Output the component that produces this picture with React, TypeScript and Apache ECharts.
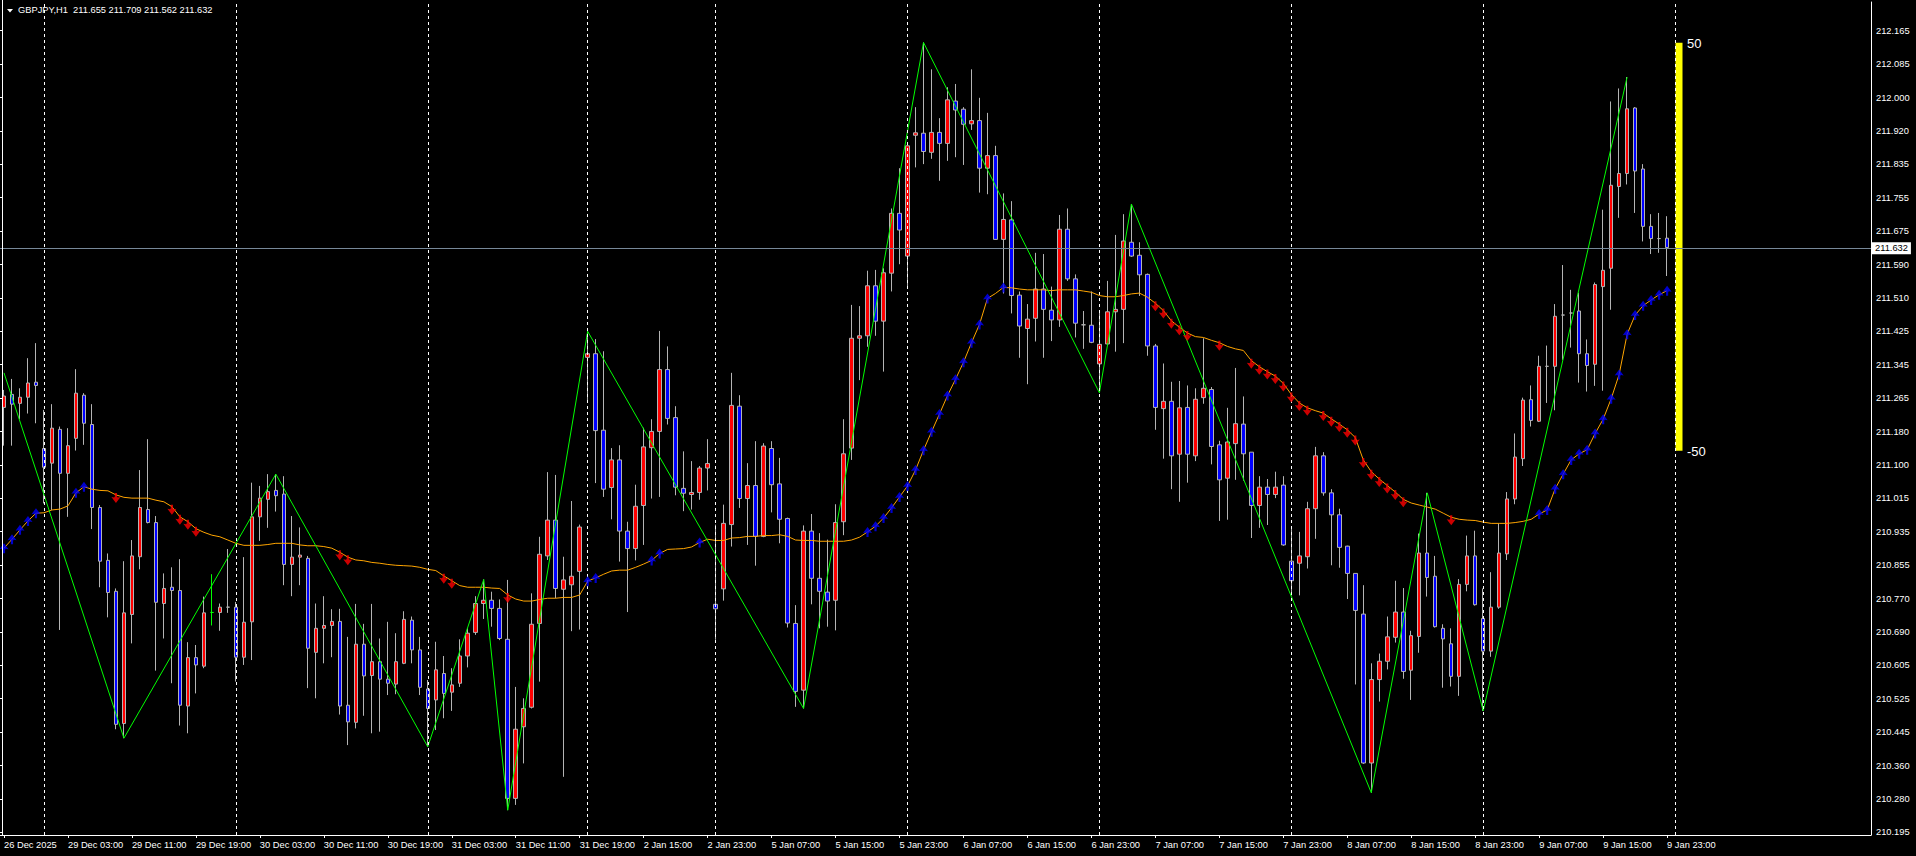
import React, { useEffect, useRef } from "react";
import * as echarts from "echarts";

const symbolName = "GBPJPY,H1";
const headerQuote = "211.655 211.709 211.562 211.632";
const lastPrice = 211.632;

const opens = [
  211.239, 211.271, 211.249, 211.264, 211.301, 211.138, 211.102, 211.185, 211.077, 211.163,
  211.269, 211.197, 210.993, 210.863, 210.787, 210.462, 210.730, 210.872, 210.988, 210.956,
  210.757, 210.797, 210.789, 210.505, 210.624, 210.603, 210.735, 210.735, 210.748, 210.748,
  210.625, 210.712, 210.970, 211.013, 211.035, 211.026, 210.853, 210.871, 210.868, 210.637,
  210.696, 210.703, 210.713, 210.507, 210.465, 210.657, 210.580, 210.614, 210.571, 210.559,
  210.610, 210.716, 210.643, 210.547, 210.520, 210.585, 210.539, 210.561, 210.628, 210.686,
  210.757, 210.765, 210.745, 210.669, 210.278, 210.454, 210.502, 210.708, 210.874, 210.962,
  210.792, 210.803, 210.836, 211.362, 211.371, 211.183, 211.042, 211.110, 210.935, 210.892,
  210.998, 211.140, 211.180, 211.332, 211.214, 211.040, 211.025, 211.030, 211.090, 210.755,
  210.793, 210.951, 211.242, 211.015, 211.047, 210.922, 211.138, 211.051, 210.966, 210.708,
  210.544, 210.935, 210.819, 210.785, 210.765, 210.958, 211.139, 211.409, 211.415, 211.538,
  211.451, 211.569, 211.716, 211.611, 211.908, 211.913, 211.866, 211.915, 211.888, 211.992,
  211.972, 211.936, 211.944, 211.827, 211.858, 211.652, 211.700, 211.515, 211.433, 211.458,
  211.530, 211.478, 211.454, 211.677, 211.555, 211.442, 211.441, 211.346, 211.395, 211.474,
  211.480, 211.645, 211.613, 211.566, 211.390, 211.236, 211.254, 211.124, 211.239, 211.120,
  211.263, 211.283, 211.147, 211.065, 211.150, 211.198, 211.129, 210.998, 211.043, 211.025,
  211.048, 210.861, 210.856, 210.872, 210.990, 211.120, 211.029, 210.975, 210.898, 210.831,
  210.731, 210.365, 210.570, 210.615, 210.674, 210.736, 210.593, 210.676, 210.881, 210.824,
  210.696, 210.658, 210.578, 210.804, 210.874, 210.720, 210.640, 210.748, 210.879, 211.014,
  211.113, 211.258, 211.205, 211.340, 211.340, 211.466, 211.471, 211.476, 211.371, 211.345,
  211.536, 211.581, 211.782, 211.814, 211.975, 211.825, 211.684, 211.654, 211.655,
];

const highs = [
  211.282, 211.309, 211.286, 211.360, 211.397, 211.233, 211.247, 211.192, 211.188, 211.333,
  211.274, 211.247, 210.999, 210.880, 210.794, 210.861, 210.913, 211.085, 211.161, 210.972,
  210.831, 210.846, 210.866, 210.662, 210.655, 210.774, 210.829, 210.757, 210.891, 210.761,
  210.871, 211.054, 211.046, 211.075, 211.075, 211.070, 210.972, 210.944, 210.874, 210.757,
  210.775, 210.743, 210.744, 210.675, 210.756, 210.707, 210.756, 210.671, 210.712, 210.684,
  210.738, 210.725, 210.675, 210.569, 210.663, 210.628, 210.598, 210.669, 210.696, 210.775,
  210.816, 210.786, 210.767, 210.815, 210.552, 210.524, 210.782, 210.921, 211.080, 211.073,
  210.872, 211.009, 210.951, 211.426, 211.407, 211.377, 211.139, 211.146, 210.958, 211.049,
  211.189, 211.210, 211.427, 211.389, 211.242, 211.131, 211.107, 211.095, 211.161, 210.951,
  211.000, 211.324, 211.269, 211.102, 211.156, 211.151, 211.156, 211.115, 210.968, 210.753,
  210.949, 210.977, 210.930, 210.914, 211.001, 211.210, 211.491, 211.488, 211.575, 211.577,
  211.581, 211.728, 211.827, 211.884, 211.977, 212.136, 212.070, 211.950, 212.026, 212.034,
  211.977, 212.070, 212.000, 211.963, 211.882, 211.765, 211.746, 211.524, 211.493, 211.619,
  211.616, 211.536, 211.712, 211.728, 211.566, 211.476, 211.524, 211.474, 211.550, 211.663,
  211.714, 211.739, 211.645, 211.568, 211.395, 211.347, 211.302, 211.304, 211.293, 211.286,
  211.409, 211.289, 211.157, 211.238, 211.336, 211.266, 211.129, 211.070, 211.063, 211.081,
  211.070, 210.940, 210.933, 211.007, 211.142, 211.129, 211.038, 210.990, 210.899, 210.831,
  210.802, 210.610, 210.634, 210.725, 210.813, 210.795, 210.690, 210.929, 211.029, 210.874,
  210.706, 210.696, 210.817, 210.924, 210.936, 210.794, 210.834, 210.954, 211.031, 211.175,
  211.263, 211.293, 211.366, 211.391, 211.493, 211.589, 211.528, 211.521, 211.406, 211.546,
  211.725, 211.991, 212.023, 212.051, 211.977, 211.837, 211.714, 211.717, 211.709,
];

const lows = [
  211.145, 211.145, 211.210, 211.224, 211.200, 211.003, 210.987, 210.692, 210.970, 211.133,
  211.147, 210.940, 210.797, 210.723, 210.448, 210.426, 210.659, 210.841, 210.954, 210.592,
  210.671, 210.561, 210.457, 210.438, 210.536, 210.598, 210.703, 210.690, 210.734, 210.565,
  210.606, 210.618, 210.911, 210.943, 210.983, 210.802, 210.775, 210.802, 210.549, 210.524,
  210.610, 210.625, 210.484, 210.409, 210.450, 210.481, 210.438, 210.442, 210.532, 210.534,
  210.608, 210.610, 210.532, 210.405, 210.446, 210.475, 210.493, 210.552, 210.600, 210.680,
  210.719, 210.700, 210.667, 210.249, 210.262, 210.364, 210.499, 210.565, 210.864, 210.770,
  210.331, 210.689, 210.693, 211.256, 211.053, 211.019, 210.964, 210.860, 210.736, 210.863,
  210.901, 211.015, 211.019, 211.197, 211.023, 210.984, 210.988, 211.012, 211.035, 210.668,
  210.764, 210.897, 210.992, 210.901, 210.850, 210.920, 210.981, 210.905, 210.698, 210.503,
  210.499, 210.755, 210.696, 210.700, 210.691, 210.925, 211.110, 211.306, 211.388, 211.415,
  211.327, 211.524, 211.591, 211.536, 211.829, 211.837, 211.850, 211.796, 211.845, 211.854,
  211.835, 211.921, 211.767, 211.763, 211.651, 211.519, 211.470, 211.361, 211.296, 211.401,
  211.361, 211.402, 211.437, 211.550, 211.411, 211.383, 211.397, 211.275, 211.392, 211.376,
  211.397, 211.609, 211.513, 211.366, 211.184, 211.113, 211.038, 211.007, 211.054, 211.107,
  211.248, 211.099, 210.960, 210.963, 211.061, 211.059, 210.918, 210.943, 210.950, 211.016,
  210.899, 210.777, 210.777, 210.843, 210.916, 211.022, 210.851, 210.845, 210.768, 210.558,
  210.363, 210.292, 210.516, 210.595, 210.661, 210.572, 210.520, 210.636, 210.774, 210.698,
  210.550, 210.553, 210.530, 210.787, 210.752, 210.493, 210.626, 210.744, 210.864, 211.001,
  211.095, 211.192, 211.203, 211.250, 211.232, 211.356, 211.386, 211.300, 211.278, 211.292,
  211.280, 211.479, 211.705, 211.787, 211.717, 211.647, 211.616, 211.619, 211.562,
];

const closes = [
  211.267, 211.247, 211.264, 211.299, 211.293, 211.092, 211.188, 211.077, 211.145, 211.274,
  211.200, 210.993, 210.861, 210.784, 210.460, 210.734, 210.874, 210.993, 210.956, 210.760,
  210.794, 210.789, 210.507, 210.624, 210.606, 210.734, 210.735, 210.748, 210.748, 210.625,
  210.711, 210.970, 211.016, 211.032, 211.022, 210.853, 210.871, 210.876, 210.647, 210.696,
  210.703, 210.713, 210.505, 210.466, 210.657, 210.579, 210.614, 210.571, 210.561, 210.614,
  210.718, 210.643, 210.551, 210.499, 210.594, 210.536, 210.557, 210.628, 210.684, 210.757,
  210.765, 210.745, 210.671, 210.278, 210.448, 210.499, 210.706, 210.878, 210.962, 210.794,
  210.815, 210.824, 210.945, 211.371, 211.182, 211.038, 211.110, 210.935, 210.892, 210.996,
  211.142, 211.180, 211.332, 211.212, 211.043, 211.028, 211.030, 211.090, 211.101, 210.744,
  210.954, 211.244, 211.015, 211.047, 210.922, 211.144, 211.049, 210.964, 210.709, 210.541,
  210.935, 210.819, 210.787, 210.763, 210.956, 211.125, 211.409, 211.415, 211.538, 211.451,
  211.570, 211.716, 211.675, 211.882, 211.914, 211.868, 211.915, 211.888, 211.995, 211.970,
  211.935, 211.944, 211.827, 211.858, 211.652, 211.701, 211.514, 211.439, 211.456, 211.530,
  211.480, 211.454, 211.677, 211.555, 211.446, 211.442, 211.399, 211.394, 211.474, 211.480,
  211.648, 211.611, 211.565, 211.390, 211.239, 211.254, 211.120, 211.238, 211.124, 211.259,
  211.286, 211.143, 211.061, 211.154, 211.199, 211.125, 210.998, 211.043, 211.025, 211.043,
  210.901, 210.813, 210.874, 210.990, 211.120, 211.029, 210.975, 210.895, 210.831, 210.740,
  210.365, 210.570, 210.615, 210.675, 210.736, 210.590, 210.678, 210.881, 210.821, 210.700,
  210.670, 210.578, 210.804, 210.874, 210.754, 210.640, 210.748, 210.881, 211.014, 211.117,
  211.257, 211.207, 211.340, 211.340, 211.463, 211.466, 211.471, 211.371, 211.342, 211.541,
  211.576, 211.785, 211.814, 211.973, 211.820, 211.684, 211.654, 211.654, 211.632,
];

const maValues = [
  210.893, 210.915, 210.938, 210.960, 210.979, 210.980, 210.987, 210.989, 210.997, 211.029,
  211.044, 211.038, 211.035, 211.034, 211.024, 211.018, 211.016, 211.016, 211.016, 211.011,
  211.007, 210.995, 210.970, 210.958, 210.941, 210.932, 210.925, 210.921, 210.913, 210.905,
  210.900, 210.900, 210.900, 210.902, 210.905, 210.905, 210.905, 210.901, 210.899, 210.899,
  210.897, 210.893, 210.883, 210.871, 210.864, 210.862, 210.858, 210.856, 210.853, 210.851,
  210.850, 210.849, 210.846, 210.841, 210.838, 210.825, 210.813, 210.801, 210.797, 210.797,
  210.797, 210.795, 210.794, 210.778, 210.768, 210.763, 210.763, 210.767, 210.770, 210.770,
  210.772, 210.772, 210.778, 210.812, 210.820, 210.829, 210.837, 210.839, 210.839, 210.846,
  210.854, 210.863, 210.880, 210.890, 210.891, 210.892, 210.896, 210.907, 210.915, 210.912,
  210.912, 210.918, 210.919, 210.922, 210.922, 210.924, 210.924, 210.926, 210.922, 210.913,
  210.912, 210.912, 210.910, 210.910, 210.910, 210.910, 210.913, 210.920, 210.933, 210.947,
  210.967, 210.992, 211.019, 211.046, 211.085, 211.134, 211.179, 211.223, 211.268, 211.308,
  211.350, 211.398, 211.443, 211.507, 211.519, 211.534, 211.533, 211.530, 211.528, 211.528,
  211.528, 211.526, 211.528, 211.528, 211.528, 211.525, 211.522, 211.514, 211.511, 211.511,
  211.514, 211.518, 211.520, 211.510, 211.495, 211.477, 211.452, 211.436, 211.422, 211.413,
  211.411, 211.404, 211.398, 211.389, 211.383, 211.379, 211.354, 211.339, 211.327, 211.316,
  211.298, 211.271, 211.250, 211.238, 211.231, 211.225, 211.211, 211.198, 211.184, 211.165,
  211.110, 211.081, 211.063, 211.047, 211.031, 211.013, 211.004, 210.999, 210.994, 210.989,
  210.979, 210.969, 210.964, 210.962, 210.961, 210.957, 210.954, 210.954, 210.954, 210.956,
  210.959, 210.964, 210.977, 210.987, 211.039, 211.075, 211.110, 211.125, 211.135, 211.175,
  211.210, 211.260, 211.320, 211.419, 211.466, 211.489, 211.503, 211.516, 211.526,
];

const upArrowBars = [
  0, 1, 2, 3, 4, 9, 10, 73, 74, 81, 82, 87,
  108, 109, 110, 111, 112, 113, 114, 115, 116, 117, 118, 119, 120, 121, 122, 123, 125,
  192, 193, 194, 195, 196, 197, 198, 199, 200, 201, 202, 203, 204, 205, 206, 207, 208,
];
const downArrowBars = [
  14, 21, 22, 23, 24, 42, 43, 55, 56, 63,
  144, 145, 146, 147, 148, 152, 156, 157, 158, 159, 160, 161, 162, 163,
  165, 166, 167, 168, 169, 170, 171, 172, 173, 174, 175, 181,
];

const zigzagBars = [0, 15, 34, 53, 60, 63, 73, 100, 115, 137, 141, 171, 178, 185, 203];
const zigzagPrices = [
  211.324, 210.426, 211.075, 210.405, 210.816, 210.249, 211.426, 210.499,
  212.136, 211.275, 211.739, 210.292, 211.029, 210.493, 212.051,
];

const daySeparatorBars = [5, 29, 53, 73, 89, 113, 137, 161, 185, 209];
const greenDojiBars = [26];

const xTickLabels = [
  "26 Dec 2025", "29 Dec 03:00", "29 Dec 11:00", "29 Dec 19:00", "30 Dec 03:00",
  "30 Dec 11:00", "30 Dec 19:00", "31 Dec 03:00", "31 Dec 11:00", "31 Dec 19:00",
  "2 Jan 15:00", "2 Jan 23:00", "5 Jan 07:00", "5 Jan 15:00", "5 Jan 23:00",
  "6 Jan 07:00", "6 Jan 15:00", "6 Jan 23:00", "7 Jan 07:00", "7 Jan 15:00",
  "7 Jan 23:00", "8 Jan 07:00", "8 Jan 15:00", "8 Jan 23:00", "9 Jan 07:00",
  "9 Jan 15:00", "9 Jan 23:00",
];

const yTickLabels = [
  "210.195", "210.280", "210.360", "210.445", "210.525", "210.605", "210.690",
  "210.770", "210.855", "210.935", "211.015", "211.100", "211.180", "211.265",
  "211.345", "211.425", "211.510", "211.590", "211.675", "211.755", "211.835",
  "211.920", "212.000", "212.085", "212.165",
];

const gaugeTop = "50";
const gaugeBottom = "-50";

const SLOT_COUNT = 234;
const FONT = "'Liberation Sans', Arial, sans-serif";
const CANDLE_EDGE = "#b4b4b4";
const UP_ARROW = "path://M5,0 L10,6 L7,5.5 L6.2,6.5 L6.2,10 L3.8,10 L3.8,6.5 L3,5.5 L0,6 Z";
const DOWN_ARROW = "path://M3.8,0 L6.2,0 L6.2,3.5 L7,4.5 L10,4 L5,10 L0,4 L3,4.5 L3.8,3.5 Z";

export default function App() {
  const ref = useRef<HTMLDivElement>(null);

  useEffect(() => {
    document.body.style.margin = "0";
    document.body.style.background = "#000";
    const chart = echarts.init(ref.current!, undefined, { renderer: "svg" });

    const catData = Array.from({ length: SLOT_COUNT }, (_, i) => String(i));
    const isLabelIdx = (i: number) => i % 8 === 0 && i / 8 < xTickLabels.length;

    const candleData = opens.map((o, i) => {
      const v = [o, closes[i], lows[i], highs[i]];
      if (greenDojiBars.includes(i)) {
        return {
          value: v,
          itemStyle: { borderColor: "#00ff00", borderColor0: "#00ff00", borderColorDoji: "#00ff00" },
        };
      }
      return v;
    });

    const option: any = {
      animation: false,
      backgroundColor: "#000",
      title: {
        text: `${symbolName}  ${headerQuote}`,
        left: 18,
        top: 5,
        padding: 0,
        textStyle: { color: "#ffffff", fontSize: 9.3, fontWeight: "normal", fontFamily: FONT },
      },
      grid: [
        { left: -1, right: 45, top: 2, bottom: 21 },
        { left: -1, right: 45, top: 30.7, bottom: 23.7 },
      ],
      xAxis: [
        {
          type: "category",
          gridIndex: 0,
          data: catData,
          boundaryGap: true,
          axisLine: { show: true, lineStyle: { color: "#ffffff", width: 1 } },
          axisTick: {
            show: true,
            interval: (i: number) => isLabelIdx(i),
            alignWithLabel: true,
            length: 3,
            lineStyle: { color: "#ffffff" },
          },
          axisLabel: {
            interval: (i: number) => isLabelIdx(i),
            formatter: (_v: string, i: number) => xTickLabels[i / 8] ?? "",
            color: "#ffffff",
            fontSize: 9.3,
            fontFamily: FONT,
            align: "left",
            margin: 5,
          },
          splitLine: { show: false },
        },
        { type: "value", gridIndex: 1, show: false, min: 0, max: 1 },
      ],
      yAxis: [
        {
          type: "value",
          gridIndex: 0,
          position: "right",
          min: 210.188,
          max: 212.2355,
          axisLine: { show: true, lineStyle: { color: "#ffffff", width: 1 } },
          axisTick: { show: false },
          axisLabel: { show: false },
          splitLine: { show: false },
        },
        {
          type: "category",
          gridIndex: 1,
          position: "right",
          data: yTickLabels,
          boundaryGap: false,
          axisLine: { show: false },
          axisTick: { show: true, length: 3, interval: 0, lineStyle: { color: "#ffffff" } },
          axisLabel: { interval: 0, color: "#ffffff", fontSize: 9.3, fontFamily: FONT, margin: 5 },
          splitLine: { show: false },
        },
      ],
      graphic: [
        {
          type: "line",
          shape: { x1: 2.5, y1: 0, x2: 2.5, y2: 835 },
          style: { stroke: "#ffffff", lineWidth: 1 },
          z: 10,
        },
        {
          type: "polygon",
          shape: { points: [[7, 9], [13, 9], [10, 12.5]] },
          style: { fill: "#ffffff" },
          z: 10,
        },
        {
          type: "rect",
          shape: { x: 1675.5, y: 42.7, width: 7, height: 408 },
          style: { fill: "#ffff00" },
          z: 0,
        },
        {
          type: "text",
          x: 1687,
          y: 43,
          style: { text: gaugeTop, fill: "#ffffff", fontSize: 13, fontFamily: FONT, verticalAlign: "middle" },
          z: 10,
        },
        {
          type: "text",
          x: 1687,
          y: 451,
          style: { text: gaugeBottom, fill: "#ffffff", fontSize: 13, fontFamily: FONT, verticalAlign: "middle" },
          z: 10,
        },
      ],
      series: [
        {
          type: "candlestick",
          name: "price",
          xAxisIndex: 0,
          yAxisIndex: 0,
          data: candleData,
          barWidth: 4,
          itemStyle: {
            color: "#ff0000",
            color0: "#0000ff",
            borderColor: CANDLE_EDGE,
            borderColor0: CANDLE_EDGE,
            borderColorDoji: CANDLE_EDGE,
            borderWidth: 1,
          },
          z: 2,
        },
        {
          type: "line",
          name: "ma",
          xAxisIndex: 0,
          yAxisIndex: 0,
          data: maValues,
          symbol: "none",
          showSymbol: false,
          lineStyle: { color: "#ffa500", width: 1 },
          z: 3,
          markLine: {
            silent: true,
            symbol: ["none", "none"],
            label: { show: false },
            data: [
              ...daySeparatorBars.map((b) => ({
                xAxis: b,
                lineStyle: { color: "#ffffff", type: [3, 3], width: 1 },
                label: { show: false },
              })),
              {
                yAxis: lastPrice,
                lineStyle: { color: "#778899", type: "solid", width: 1 },
                label: {
                  show: true,
                  position: "end",
                  distance: 1,
                  formatter: lastPrice.toFixed(3),
                  backgroundColor: "#ffffff",
                  color: "#000000",
                  fontSize: 9.3,
                  fontFamily: FONT,
                  padding: [2, 3, 1, 3],
                },
              },
            ],
          },
        },
        {
          type: "line",
          name: "zigzag",
          xAxisIndex: 0,
          yAxisIndex: 0,
          data: zigzagBars.map((b, i) => [b, zigzagPrices[i]]),
          symbol: "none",
          showSymbol: false,
          lineStyle: { color: "#00ff00", width: 1 },
          z: 4,
        },
        {
          type: "scatter",
          name: "up",
          xAxisIndex: 0,
          yAxisIndex: 0,
          data: upArrowBars.map((b) => [b, maValues[b]]),
          symbol: UP_ARROW,
          symbolSize: [9, 10],
          itemStyle: { color: "#0000ff" },
          z: 5,
        },
        {
          type: "scatter",
          name: "down",
          xAxisIndex: 0,
          yAxisIndex: 0,
          data: downArrowBars.map((b) => [b, maValues[b]]),
          symbol: DOWN_ARROW,
          symbolSize: [9, 10],
          symbolOffset: [0, 3],
          itemStyle: { color: "#ff0000" },
          z: 5,
        },
      ],
    };

    chart.setOption(option);
    return () => chart.dispose();
  }, []);

  return <div ref={ref} style={{ width: 1916, height: 856, background: "#000" }} />;
}
